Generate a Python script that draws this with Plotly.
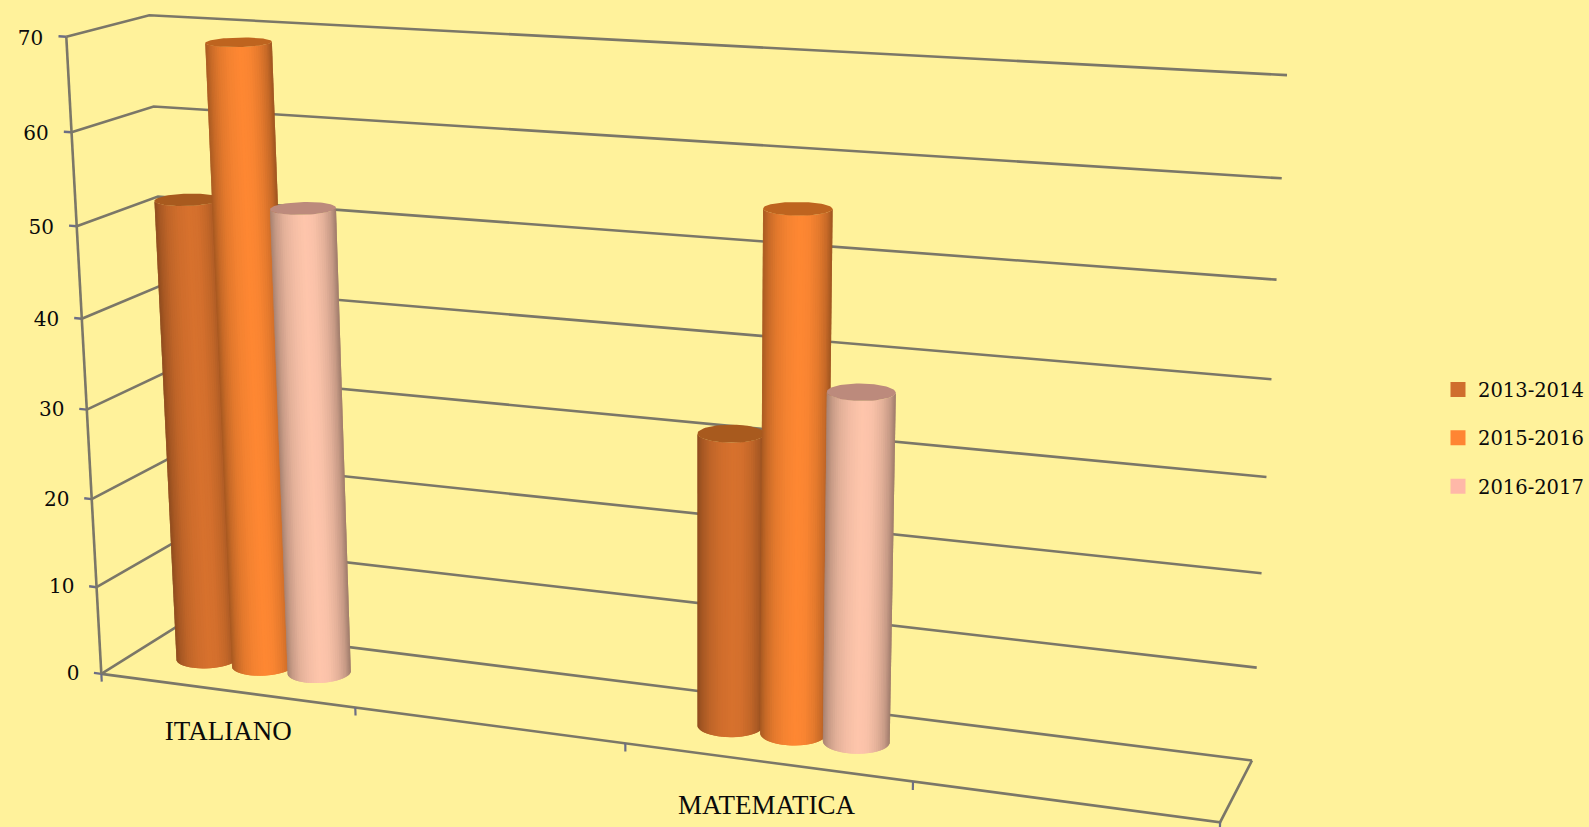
import numpy as np
import plotly.graph_objects as go

# ---- chart data ----
categories = ["ITALIANO", "MATEMATICA"]
category_slots = [0.5, 2.5]          # four slots on the floor, two of them blank
series_names = ["2013-2014", "2015-2016", "2016-2017"]
values_2013 = [51.8, 31.7]
values_2015 = [69, 55.5]
values_2016 = [51.8, 37.3]
z_ticks = [0, 10, 20, 30, 40, 50, 60, 70]
x_ticks = [1, 2, 3]
n_slots = 4

# ---- style ----
W, H = 1589, 827
BG = "#FFF29B"
GRID = "#7B7768"
TICK = "#6C6E84"
INK = "#0A0A0A"
legend_cols = ["#CF6E2E", "#FF8533", "#FFB8A8"]
body_cols = [(216, 114, 46), (255, 136, 51), (255, 198, 172)]
top_cols = ["#A85A1E", "#BE641F", "#BC8A7C"]

# ---- view calibration: (slot, depth, value) -> reference pixel ----
calib = np.array([
    (0,0,70,67,37),(0,1,70,148,15),(0,0,60,72,132),(0,1,60,153,107),(0,0,50,78,226),
    (0,0,10,96,587),(0,0,0,100,675),(0,1,0,181,624),
    (4,1,70,1287,75),(4,1,60,1282,178),(4,1,50,1277,280),(4,1,40,1272,379),
    (4,1,30,1265,477),(4,1,20,1260,574),(4,1,10,1257,668),(4,1,0,1253,761),
    (4,0,0,1221,820),(1,0,0,354,707),(2,0,0,625,745),(3,0,0,913,782)], float)

def fit_view(c):
    X = c[:, :3] / np.array([4.0, 1.0, 70.0])
    X = np.c_[X, np.ones(len(X))]
    u = c[:, 3] / W
    v = c[:, 4] / H
    wt = np.ones(len(c))
    for _ in range(15):
        rows = []
        for Xi, ui, vi, w in zip(X, u, v, wt):
            rows.append(np.r_[Xi, np.zeros(4), -ui * Xi] * w)
            rows.append(np.r_[np.zeros(4), Xi, -vi * Xi] * w)
        P = np.linalg.svd(np.array(rows))[2][-1].reshape(3, 4)
        wt = 1.0 / np.abs(X @ P[2])
        wt /= wt.mean()
    return P

VIEW = fit_view(calib)

def project(x, y, z):
    x, y, z = np.broadcast_arrays(np.asarray(x, float), np.asarray(y, float), np.asarray(z, float))
    Xh = np.stack([x / 4.0, y, z / 70.0, np.ones_like(x)], -1)
    q = Xh @ VIEW.T
    return q[..., 0] / q[..., 2] * W, q[..., 1] / q[..., 2] * H

fig = go.Figure()

def line3(pts, color=GRID, width=2.6):
    a = np.array(pts, float)
    sx, sy = project(a[:, 0], a[:, 1], a[:, 2])
    fig.add_trace(go.Scatter(x=sx, y=sy, mode="lines", line=dict(color=color, width=width),
                             hoverinfo="skip", showlegend=False))

# walls
for z in z_ticks:
    line3([(0, 0, z), (0, 1, z), (n_slots, 1, z)])
    line3([(-0.03, 0, z), (0, 0, z)], TICK, 2.4)
line3([(0, 0, 0), (0, 0, max(z_ticks))])
line3([(0, 0, 0), (n_slots, 0, 0), (n_slots, 1, 0)])
for x in [0] + x_ticks + [n_slots]:
    line3([(x, 0, 0), (x, 0, -0.9)], TICK, 2.2)

# cylinders
OFFSETS = [-0.225, 0.0, 0.222]
RX, RY = 0.112, 0.20
SHADE = ([0, 0.08, 0.2, 0.35, 0.52, 0.66, 0.8, 0.92, 1],
         [0.66, 0.78, 0.89, 0.96, 1.0, 0.98, 0.9, 0.78, 0.62])

def cylinder(cx, v, s_idx, name):
    th = np.linspace(-np.pi - 0.9, 0.9, 721)
    px, _ = project(cx + RX * np.cos(th), 0.5 + RY * np.sin(th), v / 2)
    a, b = th[np.argmin(px)], th[np.argmax(px)]
    n = 40
    ts = np.linspace(a, b, n + 1)
    mx, my = cx + RX * np.cos(ts), 0.5 + RY * np.sin(ts)
    sx0, sy0 = project(mx, my, 0)
    sx1, sy1 = project(mx, my, v)
    smid, _ = project(mx, my, v / 2)
    frac = (smid - smid.min()) / (smid.max() - smid.min())
    for i in range(n):
        j = min(i + 2, n)
        s = 0.5 * (frac[i] + frac[i + 1])
        k = np.interp(s, *SHADE)
        rgb = tuple(int(c * k) for c in body_cols[s_idx])
        fig.add_trace(go.Scatter(
            x=np.r_[sx0[i:j + 1], sx1[i:j + 1][::-1]], y=np.r_[sy0[i:j + 1], sy1[i:j + 1][::-1]],
            mode="lines", fill="toself", fillcolor="rgb(%d,%d,%d)" % rgb, line=dict(width=0),
            hoverinfo="skip", showlegend=False, name=name))
    tt = np.linspace(0, 2 * np.pi, 73)
    ex, ey = project(cx + RX * np.cos(tt), 0.5 + RY * np.sin(tt), v)
    fig.add_trace(go.Scatter(x=ex, y=ey, mode="lines", fill="toself", fillcolor=top_cols[s_idx],
                             line=dict(width=0), hoverinfo="skip", showlegend=False, name=name))

all_series = [values_2013, values_2015, values_2016]
for cat_i, slot in enumerate(category_slots):
    for s_i, vals in enumerate(all_series):
        cylinder(slot + OFFSETS[s_i], vals[cat_i], s_i, series_names[s_i])

# value labels
lx, ly = project(np.full(len(z_ticks), -0.09), 0, np.array(z_ticks, float) - 0.45)
fig.add_trace(go.Scatter(x=lx, y=ly, mode="text", text=[str(z) for z in z_ticks], textposition="middle left",
                         textfont=dict(family="DejaVu Serif", size=20, color=INK),
                         hoverinfo="skip", showlegend=False))
# category labels
cx_, cy_ = project(np.array(category_slots), 0, -4.9)
fig.add_trace(go.Scatter(x=cx_, y=cy_, mode="text", text=categories, textposition="middle center",
                         textfont=dict(family="Liberation Serif", size=27, color=INK),
                         hoverinfo="skip", showlegend=False))
# legend
for i, nm in enumerate(series_names):
    fig.add_trace(go.Scatter(x=[None], y=[None], mode="markers", name=nm, legendgroup=nm,
                             marker=dict(symbol="square", size=15, color=legend_cols[i])))

fig.update_layout(
    width=W, height=H, autosize=False,
    margin=dict(l=0, r=0, t=0, b=0, pad=0),
    paper_bgcolor=BG, plot_bgcolor=BG,
    xaxis=dict(range=[0, W], visible=False, fixedrange=True),
    yaxis=dict(range=[H, 0], visible=False, fixedrange=True),
    legend=dict(x=1.0, y=0.47, xanchor="right", yanchor="middle", bgcolor="rgba(0,0,0,0)",
                font=dict(family="DejaVu Serif", size=19.5, color=INK), tracegroupgap=20,
                itemwidth=30),
    showlegend=True,
)
fig.write_html("out.html", config=dict(displayModeBar=False),
               post_script="document.body.style.margin='0';document.body.style.background='%s';" % BG)
